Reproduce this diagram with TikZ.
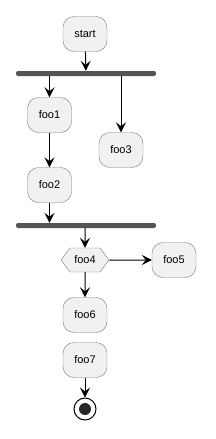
\documentclass[tikz,border=0pt]{standalone}
\usepackage{fontspec}
\setmainfont{Liberation Sans}
\usepackage{tikz}
\usetikzlibrary{arrows.meta,shapes.symbols}
\definecolor{actfill}{HTML}{F1F1F1}
\definecolor{actline}{HTML}{7A7A7A}
\definecolor{barfill}{HTML}{555555}

\begin{document}
\begin{tikzpicture}[x=1pt, y=-1pt, every node/.style={font=\fontsize{11}{13}\selectfont},
  act/.style={draw=actline, fill=actfill, rounded corners=11pt, minimum width=44pt, minimum height=35pt, inner sep=0pt},
  forkbar/.style={fill=barfill, rounded corners=2pt, minimum width=140pt, minimum height=5pt, inner sep=0pt},
  flow/.style={-{Stealth[length=10pt,width=10pt,inset=4pt]}, line width=1pt}]
\useasboundingbox (0,0) rectangle (215,439);
\node[act] (start) at (85,34) {start};
\node[forkbar] (bar1) at (86,73.5) {};
\draw[flow] (start) -- (bar1);
\node[act] (foo1) at (49.5,115) {foo1};
\draw[flow] (bar1.south -| foo1) -- (foo1);
\node[act] (foo3) at (121,150) {foo3};
\draw[flow] (bar1.south -| foo3) -- (foo3);
\node[act] (foo2) at (49.5,185) {foo2};
\draw[flow] (foo1) -- (foo2);
\node[forkbar] (bar2) at (86,225.5) {};
\draw[flow] (foo2) -- (foo2 |- bar2.north);
\node[draw=actline, fill=actfill, signal, signal to=west and east, signal pointer angle=106,
  minimum width=48pt, minimum height=24pt, inner sep=0pt] (foo4) at (85,260) {foo4};
\draw[flow] (bar2.south -| foo4) -- (foo4);
\node[act] (foo5) at (174,260) {foo5};
\draw[flow] (foo4) -- (foo5);
\node[act] (foo6) at (85,315) {foo6};
\draw[flow] (foo4) -- (foo6);
\node[act] (foo7) at (85,360) {foo7};
\node[circle, draw, line width=1pt, fill=white, minimum size=22pt, inner sep=0pt] (stop) at (85,409) {};
\node[circle, fill=black!85, minimum size=12pt, inner sep=0pt] at (stop) {};
\draw[flow] (foo7) -- (stop);
\end{tikzpicture}
\end{document}
